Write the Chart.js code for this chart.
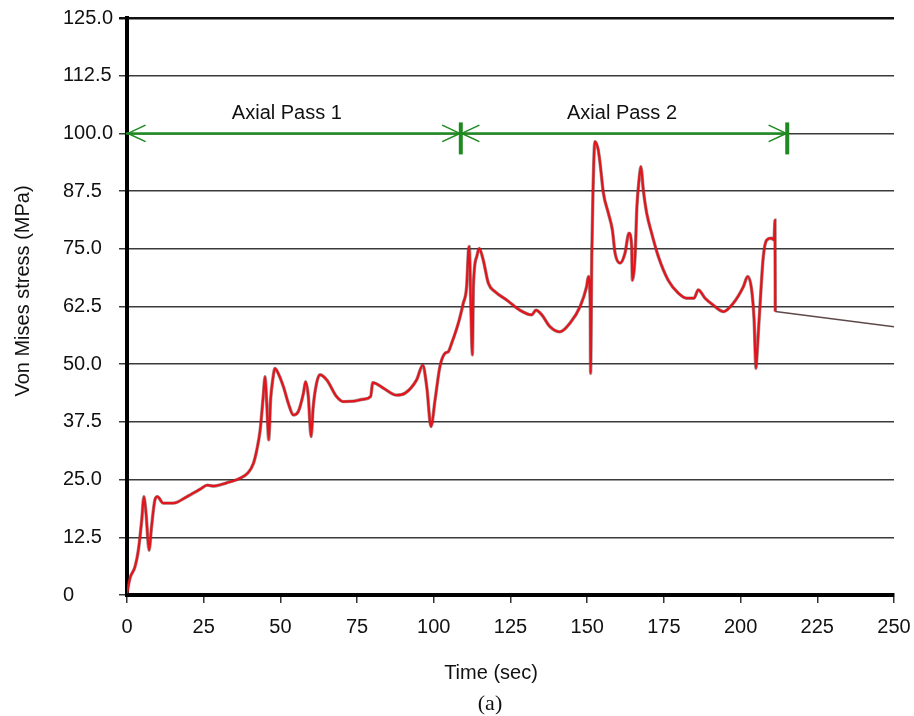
<!DOCTYPE html>
<html>
<head>
<meta charset="utf-8">
<title>Von Mises stress history</title>
<script src="https://cdn.jsdelivr.net/npm/chart.js@4/dist/chart.umd.min.js"></script>
<style>
  html, body { margin: 0; padding: 0; background: #ffffff; }
  #wrap { width: 914px; height: 716px; }
</style>
</head>
<body>
<div id="wrap"><canvas id="stressChart" width="914" height="716"></canvas></div>
<script>
// Time (s) and von Mises stress (MPa) samples along the two axial passes
const timeSec = [
  0, 1.0, 2.6, 3.7, 4.8, 5.5, 6.2, 7.2, 8.0, 9.1, 9.9, 11.8, 15.1, 19.5, 23.8,
  26.2, 28.1, 32.5, 36.8, 39.5, 41.2, 42.3, 43.4, 44.4, 45.0, 45.5, 46.2, 46.8,
  47.5, 48.2, 49.3, 51.0, 52.6, 54.2, 55.8, 57.5, 58.2, 59.1, 60.0, 60.7, 61.8,
  62.9, 65.1, 68.3, 70.5, 74.0, 77.0, 79.4, 80.1, 83.6, 87.9, 90.6, 94.4, 96.4,
  97.7, 99.1, 100.4, 102.0, 103.7, 104.7, 105.8, 108.0, 109.6, 110.7, 111.3, 111.6,
  112.0, 112.6, 112.9, 114.0, 114.8, 116.1, 117.8, 120.0, 123.8, 128.1, 131.9,
  133.3, 135.2, 137.9, 141.1, 144.4, 147.7, 149.8, 150.4, 151.0, 151.1, 151.5,
  151.9, 152.5, 153.6, 154.2, 155.3, 156.9, 158.2, 159.1, 160.7, 162.3, 163.6, 164.5,
  164.7, 165.6, 166.2, 166.9, 167.5, 168.3, 169.4, 171.0, 173.2, 176.4, 179.7, 182.4,
  184.8, 186.2, 188.4, 191.1, 194.4, 197.6, 200.9, 202.3, 203.6, 204.4, 205.0,
  205.5, 206.3, 207.4, 208.5, 210.1, 210.9, 211.2, 211.3, 250
];
const stressMPa = [
  0.4, 3.7, 6.1, 9.7, 16.2, 21.3, 17.7, 9.7, 14.8, 20.6, 21.3, 19.9, 19.9, 21.3, 22.9,
  23.8, 23.6, 24.3, 25.3, 26.5, 28.5, 31.4, 35.7, 43.0, 47.3, 42.2, 33.6, 42.2,
  46.6, 49.1, 48.0, 45.1, 41.5, 39.0, 39.7, 43.7, 46.2, 43.0, 34.3, 40.8, 45.9,
  47.7, 46.6, 43.0, 41.9, 42.0, 42.4, 43.0, 46.0, 44.8, 43.3, 43.7, 46.6, 49.8,
  45.1, 36.5, 42.2, 49.5, 52.4, 52.7, 54.5, 58.9, 63.2, 66.8, 74.7, 75.5,
  64.6, 52.0, 66.8, 73.3, 75.1, 72.6, 67.5, 65.7, 63.9, 61.7, 60.7,
  61.7, 60.7, 58.1, 57.0, 58.9, 62.5, 66.8, 69.0, 62.5, 48.0, 74.0,
  87.7, 98.2, 96.4, 93.5, 87.0, 82.7, 79.1, 74.0, 71.9, 74.0, 78.4, 75.5,
  68.2, 73.3, 84.1, 89.9, 92.8, 87.7, 82.7, 78.4, 73.3, 68.2, 65.4, 64.3,
  64.3, 66.1, 64.3, 62.8, 61.4, 63.2, 66.8, 69.0, 66.1, 59.6, 49.1,
  53.8, 62.5, 73.3, 76.9, 77.3, 76.9, 81.2, 61.4, 58.1
];

// Axis tick labels
const xTickLabels = ['0', '25', '50', '75', '100', '125', '150', '175', '200', '225', '250'];
const yTickLabels = ['0', '12.5', '25.0', '37.5', '50.0', '62.5', '75.0', '87.5', '100.0', '112.5', '125.0'];

// Axial pass spans (s) and the stress level their arrows sit on
const passNames = ['Axial Pass 1', 'Axial Pass 2'];
const passStart = [0, 108.8];
const passEnd = [108.8, 215.2];
const passLevel = 100;

// Time at which the torch leaves; after it only the cooling tail remains
const heatingEnd = 211.3;

const axisTitleX = 'Time (sec)';
const axisTitleY = 'Von Mises stress (MPa)';
const panelTag = '(a)';

const SANS = '"Liberation Sans", Arial, Helvetica, sans-serif';
const SERIF = '"Liberation Serif", "Times New Roman", serif';
const GREEN = '#1f8a22';
const INK = '#111111';

const points = timeSec.map((t, i) => ({ x: t, y: stressMPa[i] }));
const heatingPts = points.filter(p => p.x <= heatingEnd);
const coolingPts = points.filter(p => p.x >= heatingEnd);

// Pass arrows, end markers and the free-standing text
const annotations = {
  id: 'annotations',
  afterDatasetsDraw(chart) {
    const { ctx, scales: { x, y } } = chart;
    const yp = y.getPixelForValue(passLevel);
    ctx.save();
    ctx.strokeStyle = GREEN;
    ctx.lineCap = 'round';
    passStart.forEach((s, i) => {
      const x0 = x.getPixelForValue(s);
      const x1 = x.getPixelForValue(passEnd[i]);
      ctx.lineWidth = 2.5;
      ctx.beginPath();
      ctx.moveTo(x0, yp);
      ctx.lineTo(x1, yp);
      ctx.stroke();
      ctx.lineWidth = 1.6;
      ctx.beginPath();
      ctx.moveTo(x0 + 18, yp - 8);
      ctx.lineTo(x0 + 1, yp);
      ctx.lineTo(x0 + 18, yp + 8);
      ctx.moveTo(x1 - 18, yp - 8);
      ctx.lineTo(x1 - 1, yp);
      ctx.lineTo(x1 - 18, yp + 8);
      ctx.stroke();
      ctx.lineWidth = 4;
      ctx.lineCap = 'butt';
      ctx.beginPath();
      ctx.moveTo(x1, yp - 11);
      ctx.lineTo(x1, yp + 21);
      ctx.stroke();
      ctx.lineCap = 'round';
      ctx.fillStyle = INK;
      ctx.font = '20px ' + SANS;
      ctx.textAlign = 'center';
      ctx.textBaseline = 'middle';
      ctx.fillText(passNames[i], (x0 + x1) / 2 - (i === 0 ? 7 : 2), yp - 20);
    });
    ctx.restore();
  },
  afterDraw(chart) {
    const { ctx } = chart;
    ctx.save();
    ctx.fillStyle = INK;
    ctx.textAlign = 'center';
    ctx.textBaseline = 'middle';
    ctx.font = '20px ' + SANS;
    ctx.fillText(axisTitleX, 491, 673);
    ctx.save();
    ctx.translate(23, 291);
    ctx.rotate(-Math.PI / 2);
    ctx.fillText(axisTitleY, 0, 0);
    ctx.restore();
    ctx.font = '22px ' + SERIF;
    ctx.fillText(panelTag, 490, 704);
    ctx.restore();
  }
};

new Chart(document.getElementById('stressChart'), {
  type: 'line',
  data: {
    datasets: [
      {
        // red stress trace while the torch is on
        data: heatingPts,
        order: 1,
        borderColor: '#e3141b',
        borderWidth: 2.2,
        pointRadius: 0,
        cubicInterpolationMode: 'monotone'
      },
      {
        // darker outline beneath the red trace
        data: heatingPts,
        order: 2,
        borderColor: 'rgba(95,55,55,0.55)',
        borderWidth: 3.4,
        pointRadius: 0,
        cubicInterpolationMode: 'monotone'
      },
      {
        // cooling tail
        data: coolingPts,
        order: 0,
        borderColor: '#5e4848',
        borderWidth: 1.5,
        pointRadius: 0,
        tension: 0
      }
    ]
  },
  options: {
    responsive: false,
    devicePixelRatio: 1,
    animation: false,
    parsing: false,
    normalized: true,
    layout: { padding: { left: 63, right: 20, top: 18, bottom: 0 } },
    plugins: { legend: { display: false }, tooltip: { enabled: false }, title: { display: false } },
    scales: {
      x: {
        type: 'linear',
        min: 0,
        max: 250,
        afterFit: scale => {
          scale.height = 121;
          scale.paddingLeft = 0;
          scale.paddingRight = 0;
        },
        afterBuildTicks: scale => {
          scale.ticks = xTickLabels.map((_, i) => ({ value: i * 25 }));
        },
        ticks: {
          autoSkip: false,
          maxRotation: 0,
          padding: 12,
          color: INK,
          font: { family: SANS, size: 20 },
          callback: (v, i) => xTickLabels[i]
        },
        grid: {
          drawOnChartArea: false,
          drawTicks: true,
          tickLength: 8,
          color: '#333333',
          lineWidth: 1.5
        },
        border: { display: true, color: '#000000', width: 4 }
      },
      y: {
        type: 'linear',
        min: 0,
        max: 125,
        afterFit: scale => {
          scale.width = 64;
          scale.paddingTop = 0;
          scale.paddingBottom = 0;
        },
        afterBuildTicks: scale => {
          scale.ticks = yTickLabels.map((_, i) => ({ value: i * 12.5 }));
        },
        ticks: {
          autoSkip: false,
          crossAlign: 'far',
          padding: 6,
          color: INK,
          font: { family: SANS, size: 20 },
          callback: (v, i) => yTickLabels[i]
        },
        grid: {
          drawTicks: true,
          tickLength: 8,
          color: ctx => (ctx.index === yTickLabels.length - 1 ? '#111111' : '#3a3a3a'),
          lineWidth: ctx => (ctx.index === yTickLabels.length - 1 ? 2.5 : 1.5)
        },
        border: { display: true, color: '#000000', width: 4 }
      }
    }
  },
  plugins: [annotations]
});
</script>
</body>
</html>
